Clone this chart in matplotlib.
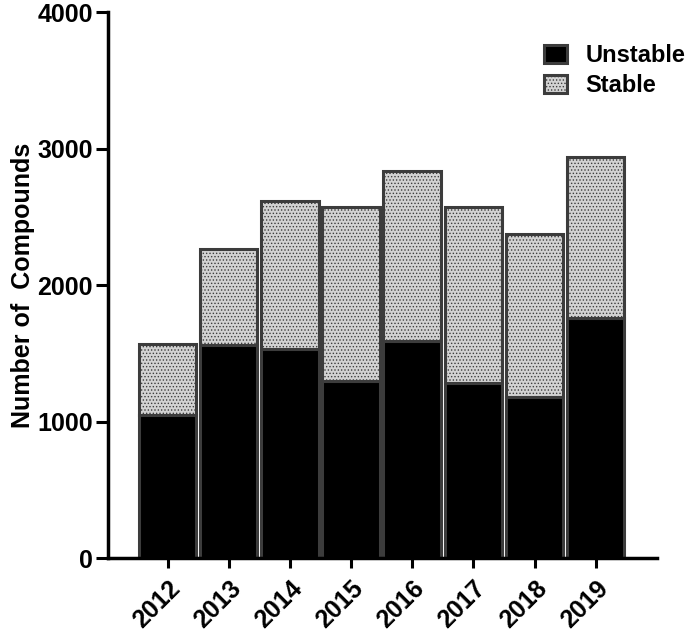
import matplotlib.pyplot as plt
import numpy as np

plt.rcParams['font.family'] = ['Liberation Sans', 'DejaVu Sans']
plt.rcParams['font.weight'] = 'bold'
plt.rcParams['hatch.linewidth'] = 0.6
plt.rcParams['hatch.color'] = '#8c8c8c'

years = ["2012", "2013", "2014", "2015", "2016", "2017", "2018", "2019"]
unstable = [1048, 1560, 1531, 1297, 1590, 1282, 1180, 1758]
total = [1568, 2264, 2615, 2571, 2835, 2571, 2374, 2938]
stable = [t - u for t, u in zip(total, unstable)]

fig = plt.figure(figsize=(6.85, 6.36), dpi=100)
ax = fig.add_axes([0.158, 0.1226, 0.801, 0.8584])

x = np.arange(len(years))
edge = '#3c3c3c'
ax.bar(x, unstable, width=0.94, color='black', edgecolor=edge, linewidth=2.2, label='Unstable')
ax.bar(x, stable, width=0.94, bottom=unstable, color='#d2d2d2', edgecolor=edge,
       linewidth=2.2, hatch='.....', label='Stable')

ax.set_xlim(-0.97, 8.0)
ax.set_ylim(0, 4000)
ax.set_yticks([0, 1000, 2000, 3000, 4000])
ax.set_xticks(x)
ax.set_xticklabels(years, rotation=45, ha='right', va='top', rotation_mode='anchor')

for s in ['top', 'right']:
    ax.spines[s].set_visible(False)
for s in ['left', 'bottom']:
    ax.spines[s].set_linewidth(2.5)

ax.tick_params(axis='y', length=9, width=2.2, labelsize=18, pad=2)
ax.tick_params(axis='x', length=7, width=2.2, labelsize=18, pad=6)

ax.set_ylabel('Number of  Compounds', fontsize=18, fontweight='bold', labelpad=2)

leg = ax.legend(loc='upper right', frameon=False, fontsize=17, handlelength=1.0,
                handleheight=0.75, handletextpad=0.75, labelspacing=0.3,
                bbox_to_anchor=(1.09, 0.98))

fig.savefig('out.png', dpi=100)
